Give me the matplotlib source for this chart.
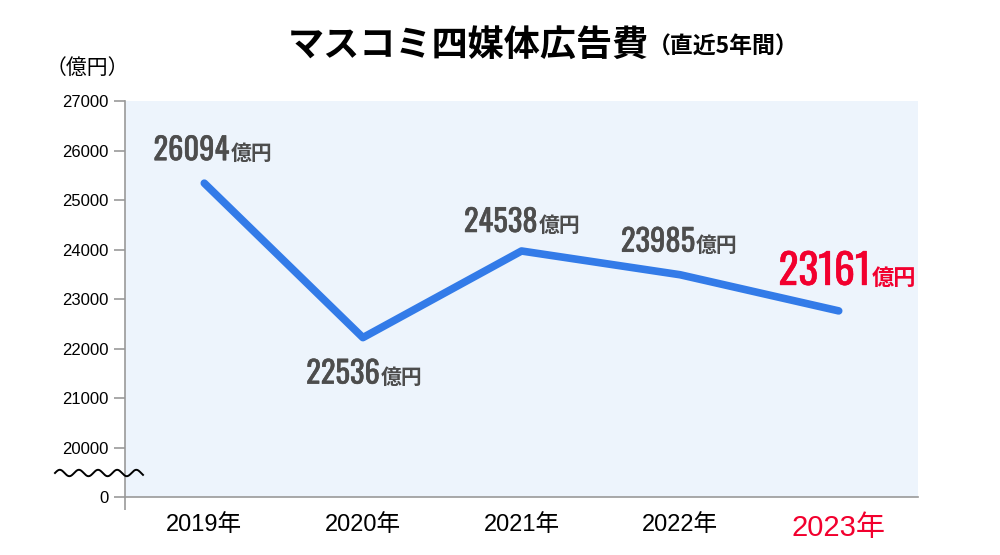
import matplotlib.pyplot as plt
import matplotlib.patheffects as pe
import numpy as np

# data
years = ['2019年', '2020年', '2021年', '2022年', '2023年']
line_values = [25340, 22220, 23970, 23490, 22760]   # where the line is drawn
label_values = ['26094', '22536', '24538', '23985', '23161']
label_offsets = [(25, -23), (17, 46), (16, -19), (15, -23), (32, -26)]  # pixels from point
yticks = [19000, 20000, 21000, 22000, 23000, 24000, 25000, 26000, 27000]
ytick_labels = ['0', '20000', '21000', '22000', '23000', '24000', '25000', '26000', '27000']

cjk = 'Noto Sans CJK JP'
sans = ['Liberation Sans', cjk]
narrow = ['Oswald', 'Roboto Condensed', cjk]
gray = '#4d4d4d'
red = '#f2002e'
blue = '#337be8'

fig = plt.figure(figsize=(10, 5.55), dpi=100)
ax = fig.add_axes([0.125, 0.1045, 0.793, 0.7135])
ax.set_facecolor('#edf4fc')

x = np.arange(len(years))
ax.plot(x, line_values, color=blue, lw=5.5, solid_capstyle='round', solid_joinstyle='round')

ax.set_xlim(-0.5, 4.5)
ax.set_ylim(19000, 27000)
ax.set_yticks(yticks)
ax.set_yticklabels(ytick_labels, family=sans, fontsize=12)
ax.set_xticks(x)
ax.set_xticklabels(years, family=sans, fontsize=17)
ax.get_xticklabels()[-1].set_color(red)
ax.get_xticklabels()[-1].set_fontsize(21)
ax.tick_params(axis='x', length=0, pad=12)
ax.set_xticks([-0.5], minor=True)
ax.tick_params(axis='x', which='minor', length=9, color='#999999', width=1.2)
ax.tick_params(axis='y', length=8, color='#999999', width=1.2, pad=4)

for s in ['top', 'right']:
    ax.spines[s].set_visible(False)
for s in ['left', 'bottom']:
    ax.spines[s].set_color('#999999')
    ax.spines[s].set_linewidth(1.2)

# data labels
for i, (lab, off) in enumerate(zip(label_values, label_offsets)):
    last = i == len(years) - 1
    c = red if last else gray
    ax.annotate(lab, (x[i], line_values[i]), xytext=(off[0], -off[1]),
                textcoords='offset pixels', ha='right', va='baseline',
                family=narrow, color=c, fontsize=30 if last else 22,
                path_effects=[pe.withStroke(linewidth=0.4, foreground=c)])
    ax.annotate('億円', (x[i], line_values[i]), xytext=(off[0] + 1, -off[1]),
                textcoords='offset pixels', ha='left', va='baseline',
                family=cjk, fontweight='bold', color=c, fontsize=16 if last else 15)

# axis break squiggle
t = np.linspace(0, 1, 200)
wx = 55 + 88 * t
wy = 473 + 3.2 * np.sin(2 * np.pi * 4.6 * t + np.pi)
fig.add_artist(plt.Line2D(wx / 1000, 1 - wy / 555, color='black', lw=1.4))

fig.text(0.046, 1 - 68 / 555, '（億円）', family=cjk, fontsize=15, va='center')
fig.text(0.288, 1 - 45 / 555, 'マスコミ四媒体広告費', family=cjk, fontweight='bold',
         fontsize=26, va='center')
fig.text(0.648, 1 - 47 / 555, '（直近5年間）', family=cjk, fontweight='bold',
         fontsize=16.5, va='center')

fig.savefig('out.png')
